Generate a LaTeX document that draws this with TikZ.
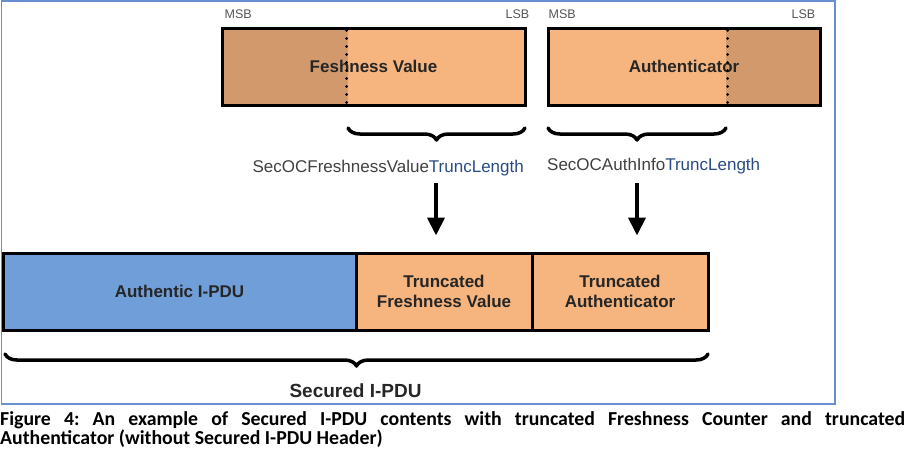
\documentclass[tikz,border=0pt]{standalone}
\usepackage{fontspec}
\setmainfont{Liberation Sans}
\newfontfamily\capfont{Carlito}
\usetikzlibrary{decorations.pathreplacing,arrows.meta}
\frenchspacing
\definecolor{peach}{HTML}{F6B47E}
\definecolor{darkpeach}{HTML}{D29A6C}
\definecolor{pdublue}{HTML}{709ED9}
\definecolor{framecol}{HTML}{6A8FD0}
\definecolor{txtdark}{HTML}{262626}
\definecolor{txtgray}{HTML}{404040}
\definecolor{bitgray}{HTML}{555555}
\definecolor{truncblue}{HTML}{2A4A86}
\tikzset{
  fieldbox/.style={draw=black, line width=3pt, inner sep=0pt, font=\fontsize{17}{20}\selectfont\bfseries, text=txtdark, align=center, minimum height=77pt},
  bitlbl/.style={font=\fontsize{12.5}{14}\selectfont, text=bitgray, inner sep=0pt},
  lenlbl/.style={font=\fontsize{17}{20}\selectfont, text=txtgray, inner sep=0pt},
  bigbrace/.style={decorate, decoration={brace, mirror, amplitude=12pt}, line width=3.5pt, line cap=round, line join=round},
  downarrow/.style={-{Triangle[width=17pt,length=18pt]}, line width=4pt},
  dotsep/.style={line width=3pt, line cap=round, dash pattern=on 0pt off 8pt}
}
\begin{document}
\begin{tikzpicture}[x=1pt,y=-1pt]
\useasboundingbox (0,0) rectangle (907,458);
% frame
\draw[framecol, line width=1.3pt] (1.5,1) rectangle (835,404);
% top boxes
\node[fieldbox, fill=peach, minimum width=303pt,
  path picture={\fill[darkpeach] (path picture bounding box.north west) rectangle ([xshift=126pt]path picture bounding box.south west);}]
  (fv) at (373.5,66.5) {Feshness Value};
\node[fieldbox, fill=peach, minimum width=272pt,
  path picture={\fill[darkpeach] (path picture bounding box.north east) rectangle ([xshift=-94pt]path picture bounding box.south east);}]
  (au) at (684,66.5) {Authenticator};
\coordinate (fvcut) at ([xshift=126pt]fv.north west);
\coordinate (aucut) at ([xshift=-94pt]au.north east);
\draw[dotsep] ([yshift=-4pt]fvcut) -- (fvcut |- fv.south);
\draw[dotsep] ([yshift=-4pt]aucut) -- (aucut |- au.south);
% MSB / LSB
\node[bitlbl, anchor=base west] (fvmsb) at ([xshift=4pt,yshift=8pt]fv.north west) {MSB};
\node[bitlbl, anchor=base east] (fvlsb) at ([xshift=3pt,yshift=8pt]fv.north east) {LSB};
\node[bitlbl, anchor=base west] (aumsb) at ([xshift=2pt,yshift=8pt]au.north west) {MSB};
\node[bitlbl, anchor=base east] (aulsb) at ([xshift=-6pt,yshift=8pt]au.north east) {LSB};
% braces under top boxes
\coordinate (b1a) at (348,128);
\coordinate (b1b) at (525,128);
\coordinate (b2a) at (548,128);
\coordinate (b2b) at (726,128);
\draw[bigbrace] (b1a) -- (b1b);
\draw[bigbrace] (b2a) -- (b2b);
% length labels
\node[lenlbl, anchor=east] (fvlen) at (524,168) {SecOCFreshnessValue\textcolor{truncblue}{TruncLength}};
\node[lenlbl, anchor=west] (aulen) at (547,166) {SecOCAuthInfo\textcolor{truncblue}{TruncLength}};
% bottom row
\node[fieldbox, fill=pdublue, minimum width=353pt] (ap) at (179.5,291.5) {Authentic I-PDU};
\node[fieldbox, fill=peach, minimum width=176pt] (tfv) at (444,291.5) {Truncated\\Freshness Value};
\node[fieldbox, fill=peach, minimum width=176pt] (tau) at (620,291.5) {Truncated\\Authenticator};
% arrows
\coordinate (a1s) at (436,183);
\coordinate (a2s) at (637,183);
\draw[downarrow] (a1s) -- ([yshift=16pt]a1s |- tfv.north);
\draw[downarrow] (a2s) -- ([yshift=16pt]a2s |- tau.north);
% big brace
\coordinate (b3a) at (5,354);
\coordinate (b3b) at (708,354);
\draw[bigbrace] (b3a) -- (b3b);
\node[font=\fontsize{19}{23}\selectfont\bfseries, text=txtdark, inner sep=0pt] (sec) at (355.5,391) {Secured I-PDU};
% caption
\node[anchor=base west, inner sep=0pt, font=\capfont\bfseries\fontsize{19.8}{19.3}\selectfont] (cap1) at (0,425)
  {\makebox[905pt][s]{Figure 4: An example of Secured I-PDU contents with truncated Freshness Counter and truncated}};
\node[anchor=base west, inner sep=0pt, font=\capfont\bfseries\fontsize{19.8}{19.3}\selectfont] (cap2) at (0,444.3)
  {Authenticator (without Secured I-PDU Header)};
\end{tikzpicture}
\end{document}
